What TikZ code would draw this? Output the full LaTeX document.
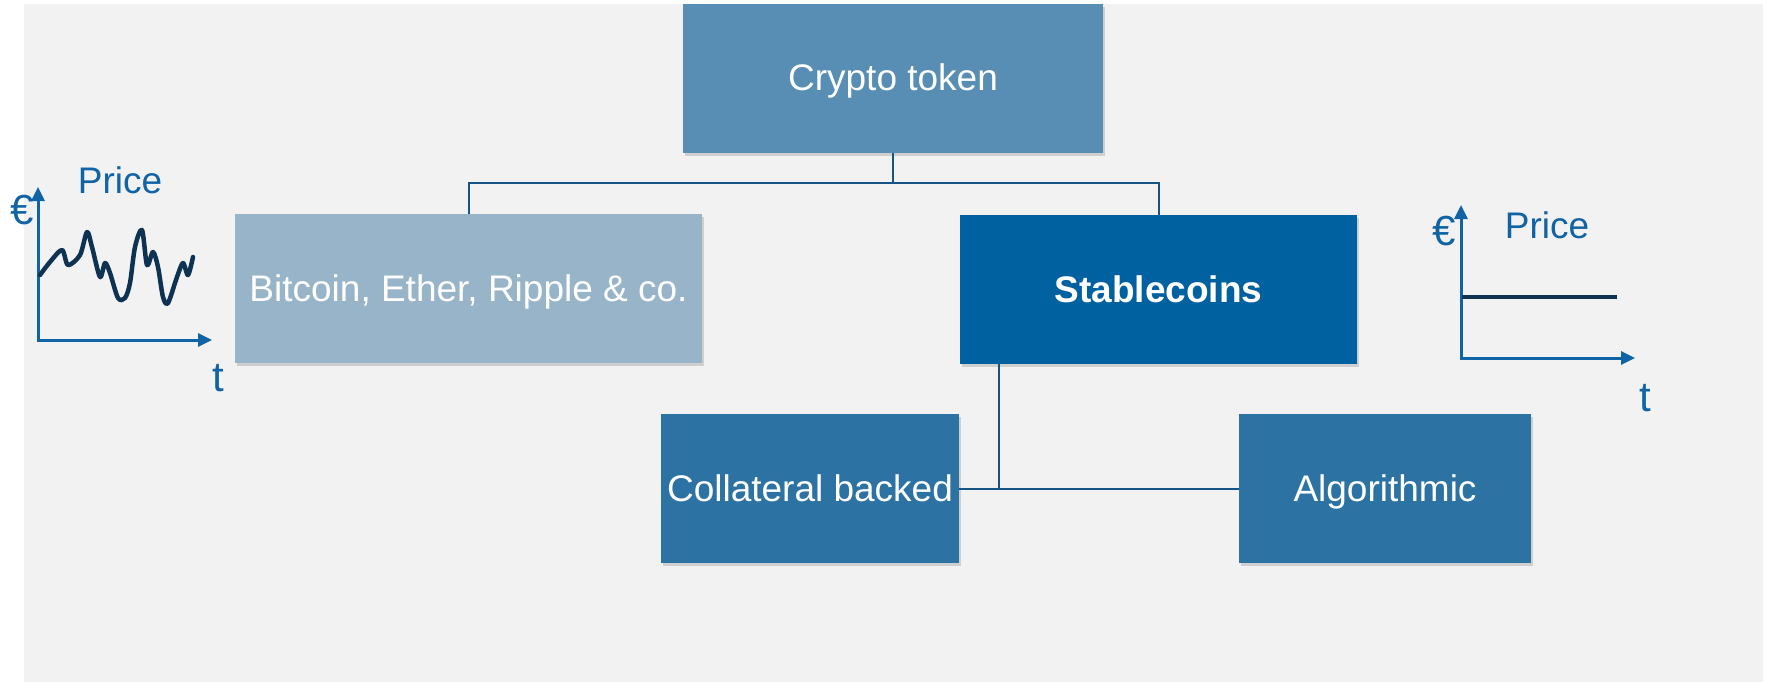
\documentclass[tikz,border=0pt]{standalone}
\usepackage{fontspec}
\setmainfont{Liberation Sans}
\usetikzlibrary{arrows.meta,shadows}
\definecolor{bggray}{RGB}{242,242,242}
\definecolor{tokenblue}{RGB}{88,142,179}
\definecolor{coinblue}{RGB}{151,180,200}
\definecolor{stableblue}{RGB}{0,97,160}
\definecolor{subblue}{RGB}{44,115,163}
\definecolor{lineblue}{RGB}{22,84,134}
\definecolor{axisblue}{RGB}{16,99,164}
\definecolor{curvenavy}{RGB}{14,50,82}
\begin{document}
\begin{tikzpicture}[x=1pt,y=-1pt,font=\fontsize{37}{44}\selectfont,
  box/.style={rectangle,inner sep=0pt,text=white,text height=27pt,text depth=2pt,
    minimum height=149pt,drop shadow={shadow xshift=2pt,shadow yshift=-3pt,opacity=0.3}},
  link/.style={lineblue,line width=2pt},
  axes/.style={axisblue,line width=3pt,
    {Triangle[length=14pt,width=13pt]}-{Triangle[length=14pt,width=13pt]}},
  lbl/.style={text=axisblue,inner sep=0pt},
  big/.style={lbl,font=\fontsize{42}{48}\selectfont}]
\useasboundingbox (0,0) rectangle (1769,682);
\fill[bggray] (24,4) rectangle (1763,682);
% the tree of boxes
\node[box,fill=tokenblue,minimum width=420pt] (token) at (893,78.5) {Crypto token};
\node[box,fill=coinblue,minimum width=467pt] (coins) at (468.5,288.5) {Bitcoin, Ether, Ripple \& co.};
\node[box,fill=stableblue,minimum width=397pt] (stable) at (1158.5,289.5) {\bfseries Stablecoins};
\node[box,fill=subblue,minimum width=298pt] (collateral) at (810,488.5) {Collateral backed};
\node[box,fill=subblue,minimum width=292pt] (algo) at (1385,488.5) {Algorithmic};
\coordinate (split) at ([yshift=-30pt]token.south);
\draw[link] (token.south) -- (split) -| (coins.north);
\draw[link] (split) -| (stable.north);
\coordinate (drop) at ([xshift=39pt]stable.south west);
\draw[link] (drop) |- (collateral.east);
\draw[link] (drop |- collateral.east) -- (algo.west);
% volatile price
\draw[axes] (38,187) -- (38,340) coordinate (o1) -- (212,340);
\draw[curvenavy,line width=4.5pt,line join=round,line cap=round] plot[smooth,tension=0.5] coordinates
  {(40,275) (50,262) (62,250) (68,265) (80,255) (87,232) (92,247) (100,277) (105,263) (110,273)
   (118,298) (125,298) (130,283) (135,247) (142,230) (147,265) (153,252) (158,267) (163,297)
   (168,303) (177,277) (183,263) (188,275) (193,257)};
\node[lbl] (price1) at (120,180) {Price};
\node[big] (eur1) at (22,210) {€};
\node[big] (t1) at (218,378) {t};
% stable price
\draw[axes] (1461,205) -- (1461,358) coordinate (o2) -- (1635,358);
\draw[curvenavy,line width=4pt] (1462,297) -- (1617,297);
\node[lbl] (price2) at (1547,225) {Price};
\node[big] (eur2) at (1444,231) {€};
\node[big] (t2) at (1645,398) {t};
\end{tikzpicture}
\end{document}
